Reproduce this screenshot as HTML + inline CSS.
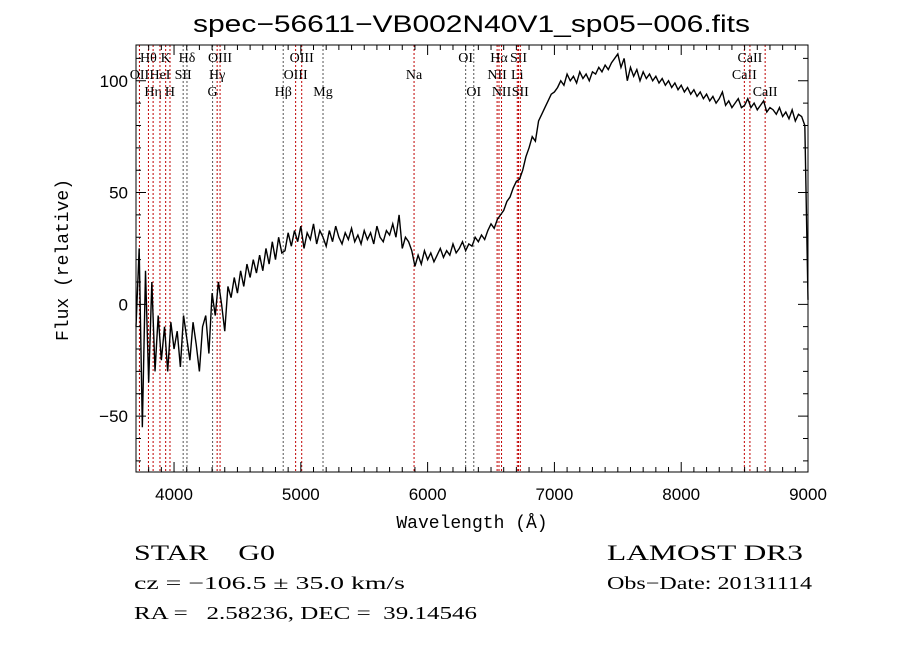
<!DOCTYPE html>
<html><head><meta charset="utf-8">
<style>
body{margin:0;background:#fff;}
svg{display:block;}
.lbl{font-family:"Liberation Serif",serif;font-size:14px;fill:#000;}
.ax{font-family:"Liberation Sans",sans-serif;font-size:17px;fill:#000;}
.info{font-family:"Liberation Serif",serif;fill:#000;}
</style></head>
<body>
<svg id="chart" width="900" height="649" viewBox="0 0 900 649">
<rect width="900" height="649" fill="#fff"/>
<text x="193" y="32" textLength="557" lengthAdjust="spacingAndGlyphs" font-family="Liberation Sans, sans-serif" font-size="24">spec−56611−VB002N40V1_sp05−006.fits</text>
<g id="lines"></g>
<g id="spec"></g>
<g id="axes"></g>
<text x="472" y="528" text-anchor="middle" font-family="Liberation Mono, monospace" font-size="18">Wavelength (Å)</text>
<text transform="translate(68,260) rotate(-90)" text-anchor="middle" font-family="Liberation Mono, monospace" font-size="18">Flux (relative)</text>
<text class="info" x="134" y="560" font-size="22" textLength="141" lengthAdjust="spacingAndGlyphs" xml:space="preserve">STAR    G0</text>
<text class="info" x="607" y="560" font-size="22" textLength="196" lengthAdjust="spacingAndGlyphs">LAMOST DR3</text>
<text class="info" x="134" y="589" font-size="18" textLength="271" lengthAdjust="spacingAndGlyphs">cz = −106.5 ± 35.0 km/s</text>
<text class="info" x="607" y="589" font-size="18" textLength="205" lengthAdjust="spacingAndGlyphs">Obs−Date: 20131114</text>
<text class="info" x="134" y="619" font-size="18" textLength="343" lengthAdjust="spacingAndGlyphs" xml:space="preserve">RA =   2.58236, DEC =  39.14546</text>
</svg>
<script>
const wavelengths = [];
for (let w = 3700; w <= 9000; w += 25) wavelengths.push(w);
const flux = [
-10,25,-55,15,-35,10,-30,-5,-25,-10,-30,-8,-20,
-12,-28,-5,-15,-25,-8,-18,-30,-10,-5,-22,5,
-5,10,0,-12,8,3,12,5,15,8,18,12,
20,14,22,15,25,18,28,20,30,23,24,32,
26,33,28,35,25,32,29,36,27,33,30,26,
33,28,35,30,27,32,29,34,28,31,27,33,
29,32,27,35,30,28,33,31,36,30,40,25,
30,28,24,17,22,18,24,20,23,19,22,25,
21,24,22,27,23,25,28,24,27,26,30,28,
31,29,33,36,34,38,40,42,46,48,52,55,
56,60,66,70,75,73,82,85,88,91,94,95,
97,100,98,103,100,102,99,104,101,103,100,104,
103,106,104,107,105,108,110,112,106,110,100,106,
102,105,100,104,101,103,100,102,99,101,98,100,
97,99,96,98,95,97,94,96,93,95,92,94,
91,93,90,92,95,89,91,88,90,92,88,89,
92,88,90,87,89,91,86,88,87,85,88,84,
86,83,87,82,85,84,80,2];
const lineWaves = [3727,3798,3835,3889,3934,3968,4072,4102,4304,4340,4363,4861,4959,5007,5175,5893,6300,6364,6548,6563,6583,6707,6717,6731,8498,8542,8662];
const lineNames = ["OII","Hθ","Hη","HeI","K","H","SII","Hδ","G","Hγ","OIII","Hβ","OIII","OIII","Mg","Na","OI","OI","NII","Hα","NII","Li","SII","SII","CaII","CaII","CaII"];
const lineRows = [1,0,2,1,0,2,1,0,2,1,0,2,1,0,2,1,0,2,1,0,2,1,0,2,1,0,2];
const lineRed = [1,1,1,1,1,1,0,0,0,1,1,0,1,1,0,1,0,0,1,1,1,1,1,1,1,1,1];
const xTicks = [4000,5000,6000,7000,8000,9000];
const yTicks = [-50,0,50,100];

const X0=136,X1=808,Y0=45,Y1=472,XMIN=3700,XMAX=9000,YMIN=-75,YMAX=116;
const sx = w => X0+(w-XMIN)/(XMAX-XMIN)*(X1-X0);
const sy = f => Y1-(f-YMIN)/(YMAX-YMIN)*(Y1-Y0);
const NS="http://www.w3.org/2000/svg";
function mk(tag, parent){const e=document.createElementNS(NS,tag);parent.appendChild(e);return e;}

const gl=document.getElementById('lines');
const rowY=[62,79,96];
lineWaves.forEach((w,i)=>{
  const l=mk('line',gl);
  
  
  l.setAttribute('x1',sx(w));l.setAttribute('x2',sx(w));
  l.setAttribute('y1',Y0);l.setAttribute('y2',Y1);
  l.setAttribute('stroke',lineRed[i]?'#c00000':'#555');
  l.setAttribute('stroke-width','1');l.setAttribute('stroke-dasharray','2,2');
  const t=mk('text',gl);
  
  
  t.setAttribute('class','lbl');
  t.setAttribute('x',sx(w));t.setAttribute('y',rowY[lineRows[i]]);
  t.setAttribute('text-anchor','middle');
  t.textContent=lineNames[i];
});

const gs=document.getElementById('spec');
const p=mk('polyline',gs);


p.setAttribute('points',wavelengths.map((w,i)=>sx(w)+','+sy(flux[i])).join(' '));
p.setAttribute('fill','none');p.setAttribute('stroke','#000');p.setAttribute('stroke-width','1.4');

const ga=document.getElementById('axes');
const fr=mk('rect',ga);


fr.setAttribute('x',X0);fr.setAttribute('y',Y0);fr.setAttribute('width',X1-X0);fr.setAttribute('height',Y1-Y0);
fr.setAttribute('fill','none');fr.setAttribute('stroke','#000');
let d='';
for(let w=3800;w<=9000;w+=100){const x=sx(w),L=(w%1000===0)?10:5;d+=`M${x},${Y1}v${-L}M${x},${Y0}v${L}`;}
for(let f=-70;f<=110;f+=10){const y=sy(f),L=(f%50===0)?10:5;d+=`M${X0},${y}h${L}M${X1},${y}h${-L}`;}
const tk=mk('path',ga);


tk.setAttribute('d',d);tk.setAttribute('stroke','#000');
xTicks.forEach(w=>{const t=mk('text',ga);
  
  
  t.setAttribute('class','ax');t.setAttribute('x',sx(w));t.setAttribute('y',500);t.setAttribute('text-anchor','middle');t.textContent=w;});
yTicks.forEach(f=>{const t=mk('text',ga);
  
  
  t.setAttribute('class','ax');t.setAttribute('x',128);t.setAttribute('y',sy(f)+6);t.setAttribute('text-anchor','end');t.textContent=f<0?'−'+(-f):f;});
</script>
</body></html>
